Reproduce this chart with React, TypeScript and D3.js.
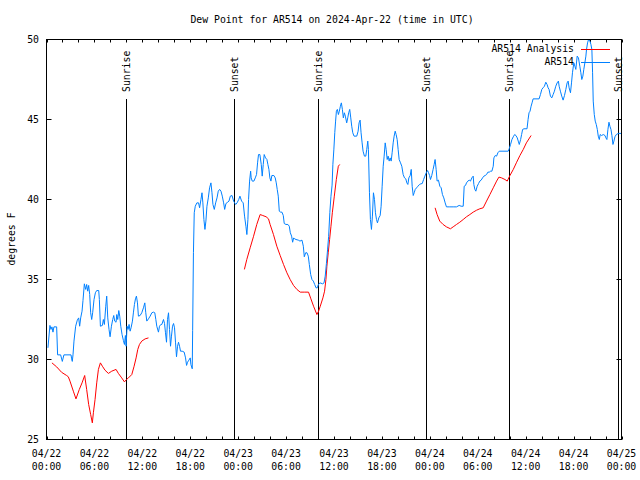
import * as d3 from 'd3'

// hours since 2024-04-22 00:00 UTC, dew point in degrees F
const observed: [number, number][] = [
  [0.18, 30.73], [0.43, 32.13], [0.56, 31.88], [0.68, 32.04], [0.81, 31.71], [0.93, 32.04], [1.27, 32.04],
  [1.39, 30.29], [1.77, 30.29], [1.98, 29.88], [2.18, 30.29], [3.07, 30.29], [3.15, 30.04], [3.23, 29.88],
  [3.32, 30.29], [3.44, 31.15], [3.65, 32.08], [3.86, 32.46], [4.03, 32.6], [4.15, 32.08], [4.28, 32.6],
  [4.45, 33.02], [4.57, 33.69], [4.74, 34.73], [4.91, 34.38], [5.03, 34.69], [5.16, 34.27], [5.28, 34.63],
  [5.41, 34.06], [5.53, 32.92], [5.66, 32.5], [5.78, 32.92], [5.95, 33.75], [6.12, 34.17], [6.29, 34.31],
  [6.54, 34.31], [6.62, 33.75], [6.75, 32.08], [7.0, 32.13], [7.12, 32.5], [7.25, 32.19], [7.42, 33.33],
  [7.54, 33.96], [7.67, 32.6], [7.83, 31.88], [7.96, 31.42], [8.13, 32.08], [8.29, 32.5], [8.42, 32.75],
  [8.54, 32.4], [8.71, 32.33], [8.8, 32.81], [8.92, 32.5], [9.05, 33.06], [9.17, 32.71], [9.3, 32.08],
  [9.46, 31.56], [9.63, 31.19], [9.76, 30.94], [9.88, 31.5], [9.97, 30.83], [10.09, 32.08], [10.22, 31.88],
  [10.34, 32.19], [10.47, 31.77], [10.59, 31.98], [10.76, 32.4], [10.89, 32.96], [11.01, 33.44], [11.14, 33.79],
  [11.26, 33.96], [11.39, 33.54], [11.51, 32.71], [11.72, 32.75], [11.93, 32.92], [12.14, 33.23], [12.31, 33.54],
  [12.43, 32.92], [12.56, 32.4], [12.77, 32.54], [12.98, 32.71], [13.19, 32.92], [13.4, 32.96], [13.56, 32.92],
  [13.69, 32.5], [13.81, 32.08], [14.02, 31.71], [14.15, 32.08], [14.32, 32.19], [14.44, 32.19], [14.65, 32.5],
  [14.78, 32.25], [14.9, 31.67], [15.03, 31.08], [15.15, 32.5], [15.28, 32.92], [15.4, 31.88], [15.53, 30.83],
  [15.65, 31.46], [15.78, 32.08], [15.91, 32.25], [16.03, 31.98], [16.16, 31.04], [16.28, 30.17], [16.41, 30.83],
  [16.53, 31.08], [16.66, 30.83], [16.78, 30.52], [16.99, 30.52], [17.24, 30.46], [17.41, 30.1], [17.54, 29.63],
  [17.66, 29.83], [17.83, 29.96], [18.0, 30.1], [18.08, 29.69], [18.25, 29.42], [18.3, 31.8], [18.4, 36.7],
  [18.5, 39.17], [18.63, 39.58], [18.83, 39.79], [19.04, 39.79], [19.17, 39.48], [19.34, 40.0], [19.47, 40.42],
  [19.58, 39.79], [19.71, 38.75], [19.84, 38.13], [19.96, 38.65], [20.09, 39.58], [20.26, 40.1], [20.42, 40.73],
  [20.59, 41.04], [20.72, 40.42], [20.84, 39.69], [21.01, 39.38], [21.18, 39.79], [21.35, 40.1], [21.51, 40.52],
  [21.68, 40.63], [21.85, 40.52], [22.01, 40.21], [22.18, 39.79], [22.31, 39.38], [22.47, 39.75], [22.68, 39.83],
  [22.85, 39.9], [23.02, 40.21], [23.23, 40.25], [23.43, 39.9], [23.56, 39.79], [23.69, 39.69], [23.86, 39.79],
  [24.07, 40.0], [24.22, 40.21], [24.43, 39.9], [24.63, 39.79], [24.8, 38.96], [24.97, 38.33], [25.09, 37.81],
  [25.22, 38.75], [25.3, 40.0], [25.43, 41.15], [25.56, 41.77], [25.63, 41.35], [25.76, 41.15], [25.97, 41.15],
  [26.14, 41.35], [26.3, 41.56], [26.43, 42.29], [26.55, 42.81], [26.72, 42.81], [26.89, 42.19], [27.01, 41.46],
  [27.14, 42.19], [27.26, 42.81], [27.43, 42.6], [27.6, 42.5], [27.72, 42.19], [27.85, 41.88], [27.97, 41.35],
  [28.1, 41.15], [28.22, 41.5], [28.47, 41.5], [28.64, 41.35], [28.77, 41.04], [28.89, 40.63], [29.02, 40.21],
  [29.15, 39.27], [29.32, 39.21], [29.48, 39.21], [29.65, 39.0], [29.77, 38.5], [29.98, 38.44], [30.23, 38.44],
  [30.4, 38.33], [30.53, 37.92], [30.69, 37.71], [30.82, 37.33], [30.95, 37.6], [31.07, 37.54], [31.24, 37.5],
  [31.53, 37.46], [31.74, 37.4], [31.99, 37.46], [32.16, 37.08], [32.28, 36.42], [32.45, 36.67], [32.62, 36.67],
  [32.78, 36.46], [32.91, 35.94], [33.08, 35.31], [33.24, 35.0], [33.41, 34.9], [33.58, 34.69], [33.75, 34.48],
  [33.91, 34.48], [34.04, 34.69], [34.25, 34.79], [34.58, 34.73], [34.75, 34.79], [34.9, 35.21], [35.05, 36.0],
  [35.2, 36.9], [35.33, 37.7], [35.48, 39.2], [35.62, 40.2], [35.76, 40.9], [35.86, 42.2], [35.98, 43.1],
  [36.1, 44.2], [36.2, 44.9], [36.3, 45.52], [36.42, 45.63], [36.55, 45.31], [36.67, 45.52], [36.8, 45.83],
  [36.92, 46.04], [37.05, 45.63], [37.17, 45.1], [37.3, 45.42], [37.42, 45.21], [37.59, 44.79], [37.72, 45.1],
  [37.84, 45.42], [37.97, 45.63], [38.1, 45.1], [38.22, 44.58], [38.35, 44.17], [38.51, 43.96], [38.85, 43.96],
  [39.02, 44.27], [39.14, 44.79], [39.27, 44.96], [39.39, 44.17], [39.52, 43.54], [39.64, 43.02], [39.81, 42.71],
  [39.98, 42.71], [40.1, 43.13], [40.23, 43.65], [40.31, 43.13], [40.44, 40.42], [40.56, 38.75], [40.69, 38.13],
  [40.81, 38.96], [40.94, 40.42], [41.07, 40.0], [41.19, 39.17], [41.32, 38.75], [41.44, 38.54], [41.61, 38.85],
  [41.78, 39.0], [41.9, 39.58], [42.03, 40.83], [42.16, 42.08], [42.28, 42.71], [42.41, 43.54], [42.53, 43.13],
  [42.66, 42.5], [42.78, 42.71], [42.91, 42.4], [43.03, 42.6], [43.16, 42.4], [43.28, 42.92], [43.41, 43.54],
  [43.53, 43.96], [43.66, 44.27], [43.78, 44.06], [43.91, 43.75], [44.03, 43.13], [44.16, 42.5], [44.33, 42.29],
  [44.49, 42.08], [44.66, 41.56], [44.83, 41.35], [44.99, 41.29], [45.12, 41.04], [45.25, 40.94], [45.37, 41.35],
  [45.54, 41.5], [45.67, 41.88], [45.79, 40.83], [45.92, 40.25], [46.04, 40.42], [46.17, 40.63], [46.34, 40.73],
  [46.51, 40.83], [46.71, 40.94], [46.88, 40.98], [47.05, 41.0], [47.22, 41.25], [47.38, 41.46], [47.55, 41.67],
  [47.72, 41.81], [47.84, 41.67], [47.97, 41.5], [48.08, 41.25], [48.24, 41.5], [48.41, 41.88], [48.54, 42.19],
  [48.66, 42.5], [48.79, 41.88], [48.91, 41.15], [49.08, 41.21], [49.25, 40.83], [49.42, 40.73], [49.58, 40.31],
  [49.75, 40.1], [49.92, 39.79], [50.08, 39.54], [50.5, 39.54], [50.92, 39.54], [51.34, 39.54], [51.67, 39.63],
  [51.92, 39.58], [52.18, 39.58], [52.3, 40.83], [52.47, 40.88], [52.59, 41.04], [52.76, 41.15], [52.93, 41.21],
  [53.09, 41.15], [53.26, 41.35], [53.43, 41.46], [53.51, 40.94], [53.64, 40.63], [53.76, 40.52], [53.93, 40.83],
  [54.1, 41.0], [54.26, 41.15], [54.43, 41.21], [54.6, 41.35], [54.77, 41.46], [54.93, 41.5], [55.1, 41.56],
  [55.27, 41.71], [55.44, 41.71], [55.61, 41.77], [55.77, 41.77], [55.94, 42.08], [56.02, 42.6], [56.19, 42.75],
  [56.36, 42.71], [56.52, 42.92], [56.69, 43.02], [57.82, 43.02], [57.94, 43.17], [58.11, 43.44], [58.28, 43.75],
  [58.45, 43.92], [58.62, 44.06], [58.78, 44.0], [58.95, 43.85], [59.07, 43.65], [59.2, 43.44], [59.37, 43.75],
  [59.49, 44.06], [59.62, 44.38], [59.79, 44.42], [60.17, 44.42], [60.3, 45.0], [60.42, 45.42], [60.55, 45.52],
  [60.68, 45.83], [60.8, 46.04], [60.93, 46.29], [61.68, 46.29], [61.85, 46.56], [62.02, 46.88], [62.18, 46.98],
  [62.35, 47.08], [62.52, 47.33], [62.68, 47.19], [62.81, 46.98], [62.93, 46.88], [63.1, 46.46], [63.27, 46.35],
  [63.44, 46.56], [63.6, 46.77], [63.77, 47.08], [63.94, 47.29], [64.1, 47.4], [64.19, 47.08], [64.35, 46.77],
  [64.52, 46.46], [64.69, 46.21], [64.86, 46.5], [65.03, 46.88], [65.19, 47.29], [65.32, 47.4], [65.44, 46.98],
  [65.61, 46.67], [65.74, 47.29], [65.86, 47.92], [66.03, 48.54], [66.16, 48.33], [66.28, 48.13], [66.45, 48.96],
  [66.61, 48.85], [66.78, 48.33], [66.91, 47.92], [67.03, 47.5], [67.16, 47.71], [67.28, 48.13], [67.41, 48.54],
  [67.54, 48.96], [67.62, 49.38], [67.75, 49.79], [67.87, 50.0], [68.04, 49.9], [68.17, 49.69], [68.29, 49.38],
  [68.38, 47.92], [68.46, 46.15], [68.59, 45.31], [68.71, 44.9], [68.84, 44.69], [68.97, 44.38], [69.09, 43.96],
  [69.22, 43.75], [69.33, 44.06], [69.51, 44.0], [69.72, 44.06], [69.93, 44.0], [70.05, 43.85], [70.17, 43.75],
  [70.3, 44.38], [70.43, 44.83], [70.55, 44.58], [70.68, 44.38], [70.8, 44.0], [70.93, 43.44], [71.05, 43.65],
  [71.18, 43.92], [71.35, 44.06], [71.6, 44.13], [71.81, 44.13], [72.0, 44.13],
]

const analysisDay1: [number, number][] = [
  [0.68, 29.79], [1.27, 29.54], [1.89, 29.2], [2.52, 29.0], [2.73, 28.92], [2.94, 28.65], [3.36, 28.02],
  [3.69, 27.54], [4.11, 28.13], [4.45, 28.54], [4.78, 29.0], [5.03, 28.13], [5.28, 27.19], [5.53, 26.56],
  [5.74, 26.04], [5.87, 26.67], [6.08, 27.5], [6.29, 28.54], [6.5, 29.38], [6.75, 29.79], [7.0, 29.58],
  [7.33, 29.33], [7.75, 29.13], [8.17, 29.27], [8.71, 29.38], [9.0, 29.13], [9.42, 28.85], [9.76, 28.6],
  [10.01, 28.75], [10.26, 28.85], [10.68, 29.06], [10.97, 29.58], [11.22, 30.1], [11.43, 30.63], [11.64, 30.94],
  [11.93, 31.15], [12.35, 31.29], [12.77, 31.35],
]

const analysisDay2: [number, number][] = [
  [24.78, 35.63], [25.08, 36.25], [25.5, 36.98], [25.91, 37.67], [26.33, 38.44], [26.75, 39.06], [27.08, 39.0],
  [27.5, 38.92], [27.8, 38.79], [28.0, 38.44], [28.42, 37.81], [28.84, 37.08], [29.26, 36.5], [29.68, 35.94],
  [30.1, 35.42], [30.51, 35.0], [30.93, 34.63], [31.35, 34.38], [31.77, 34.21], [32.27, 34.21], [32.81, 34.21],
  [33.11, 33.79], [33.44, 33.33], [33.86, 32.81], [34.07, 33.02], [34.28, 33.33], [34.61, 33.85], [34.82, 34.27],
  [34.99, 35.0], [35.11, 35.83], [35.28, 36.67], [35.45, 37.5], [35.62, 38.33], [35.79, 39.17], [36.04, 40.21],
  [36.29, 41.25], [36.54, 42.08], [36.72, 42.19],
]

const analysisDay3: [number, number][] = [
  [48.66, 39.48], [48.91, 39.06], [49.24, 38.65], [49.66, 38.44], [50.08, 38.29], [50.58, 38.17], [50.92, 38.29],
  [51.34, 38.44], [51.75, 38.58], [52.18, 38.75], [52.59, 38.92], [53.01, 39.06], [53.43, 39.21], [53.85, 39.33],
  [54.26, 39.42], [54.68, 39.48], [55.1, 39.9], [55.52, 40.31], [55.94, 40.73], [56.36, 41.15], [56.65, 41.4],
  [56.99, 41.35], [57.41, 41.25], [57.69, 41.15], [58.03, 41.5], [58.45, 41.88], [58.87, 42.33], [59.28, 42.75],
  [59.7, 43.13], [60.09, 43.54], [60.68, 44.0],
]

const sunriseHours = [10.0, 33.98, 57.93]
const sunsetHours = [23.5, 47.55, 71.6]
const dewTicks = [25, 30, 35, 40, 45, 50]

const START = Date.UTC(2024, 3, 22)
const toDate = (h: number) => new Date(START + h * 3600e3)

const FONT = "'DejaVu Sans Mono', monospace"
const FS = 9.8
const BLUE = '#0080ff'
const RED = '#ff0000'

export default function App() {
  const left = 46.5, right = 621.5, top = 39.5, bottom = 439.5

  const x = d3.scaleUtc().domain([toDate(0), toDate(72)]).range([left, right])
  const y = d3.scaleLinear().domain([25, 50]).range([bottom, top])

  const line = d3.line<[number, number]>()
    .x(d => x(toDate(d[0])))
    .y(d => y(d[1]))

  const minorTicks = x.ticks(d3.utcHour.every(2)!)
  const labelTicks = x.ticks(d3.utcHour.every(6)!)
  const fmtDay = d3.utcFormat('%m/%d')
  const fmtHour = d3.utcFormat('%H:%M')

  const sunLines = [
    ...sunriseHours.map(h => ({ h, label: 'Sunrise' })),
    ...sunsetHours.map(h => ({ h, label: 'Sunset' })),
  ]

  return (
    <svg width={640} height={480} style={{ position: 'absolute', left: 0, top: 0, background: '#fff' }}
      fontFamily={FONT} fontSize={FS}>
      <defs>
        <clipPath id="plot">
          <rect x={left} y={top - 1} width={right - left} height={bottom - top + 1} />
        </clipPath>
      </defs>

      <text x={332} y={23} textAnchor="middle">Dew Point for AR514 on 2024-Apr-22 (time in UTC)</text>
      <text transform={`translate(12,239) rotate(-90)`} textAnchor="middle" dy="0.35em">degrees F</text>

      {/* y ticks */}
      {dewTicks.map(v => (
        <g key={v}>
          <line x1={left} x2={left + 5} y1={y(v)} y2={y(v)} stroke="#000" />
          <line x1={right - 5} x2={right} y1={y(v)} y2={y(v)} stroke="#000" />
          <text x={39} y={y(v)} dy="0.35em" textAnchor="end">{v}</text>
        </g>
      ))}

      {/* x ticks */}
      {minorTicks.map(t => (
        <g key={+t}>
          <line x1={Math.round(x(t)) + 0.5} x2={Math.round(x(t)) + 0.5} y1={bottom} y2={bottom - 3} stroke="#000" />
          <line x1={Math.round(x(t)) + 0.5} x2={Math.round(x(t)) + 0.5} y1={top} y2={top + 3} stroke="#000" />
        </g>
      ))}
      {labelTicks.map(t => (
        <g key={+t}>
          <text x={x(t)} y={457} textAnchor="middle">{fmtDay(t)}</text>
          <text x={x(t)} y={470} textAnchor="middle">{fmtHour(t)}</text>
        </g>
      ))}

      {/* sunrise / sunset markers */}
      {sunLines.map(s => {
        const sx = Math.round(x(toDate(s.h))) + 0.5
        return (
          <g key={s.label + s.h}>
            <line x1={sx} x2={sx} y1={99} y2={bottom} stroke="#000" />
            <text transform={`translate(${sx},92) rotate(-90)`} dy="0.35em">{s.label}</text>
          </g>
        )
      })}

      <g clipPath="url(#plot)" fill="none" strokeWidth={1}>
        {[analysisDay1, analysisDay2, analysisDay3].map((seg, i) => (
          <path key={i} d={line(seg) ?? ''} stroke={RED} />
        ))}
        <path d={line(observed) ?? ''} stroke={BLUE} />
      </g>

      {/* legend */}
      <text x={574} y={49} dy="0.35em" textAnchor="end">AR514 Analysis</text>
      <line x1={581} x2={610} y1={49.5} y2={49.5} stroke={RED} />
      <text x={574} y={62} dy="0.35em" textAnchor="end">AR514</text>
      <line x1={581} x2={610} y1={62.5} y2={62.5} stroke={BLUE} />

      <rect x={left} y={top} width={right - left} height={bottom - top} fill="none" stroke="#000" />
    </svg>
  )
}
